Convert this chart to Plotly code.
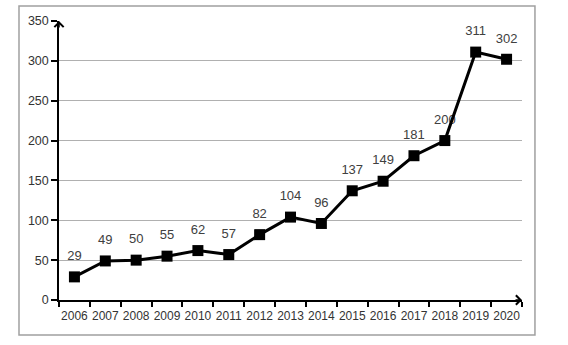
import plotly.graph_objects as go

years = ["2006", "2007", "2008", "2009", "2010", "2011", "2012", "2013",
         "2014", "2015", "2016", "2017", "2018", "2019", "2020"]
values = [29, 49, 50, 55, 62, 57, 82, 104, 96, 137, 149, 181, 200, 311, 302]
y_ticks = [0, 50, 100, 150, 200, 250, 300, 350]

fig = go.Figure()
# labels (drawn first so the line sits on top)
fig.add_trace(go.Scatter(
    x=years, y=values, mode="markers+text", text=[str(v) for v in values],
    textposition="top center", marker=dict(size=20, color="rgba(0,0,0,0)"),
    textfont=dict(family="Liberation Sans, Arial", size=13, color="#404040"),
    hoverinfo="skip", cliponaxis=False, showlegend=False))
fig.add_trace(go.Scatter(
    x=years, y=values, mode="lines+markers",
    line=dict(color="black", width=3),
    marker=dict(symbol="square", size=11, color="black"),
    cliponaxis=False, showlegend=False))

fig.update_layout(
    width=568, height=345,
    margin=dict(l=59, r=46, t=21, b=45),
    paper_bgcolor="white", plot_bgcolor="white",
    font=dict(family="Liberation Sans, Arial", size=12, color="#333333"),
    xaxis=dict(type="category", tickson="boundaries", ticks="outside", ticklen=5,
               tickcolor="black", tickwidth=1.5, showline=True, linecolor="black",
               linewidth=1.5, showgrid=False, range=[-0.5, 14.5], tickangle=0,
               ticklabelstandoff=4,
               tickfont=dict(size=12, color="#333333")),
    yaxis=dict(range=[0, 350], tickvals=y_ticks, ticks="outside", ticklen=6,
               tickcolor="black", tickwidth=1.5, showline=True, linecolor="black",
               linewidth=1.5, showgrid=True, gridcolor="#b0b0b0", gridwidth=1,
               zeroline=False, tickfont=dict(size=12.5, color="#333333")),
    shapes=[dict(type="rect", xref="paper", yref="paper",
                 x0=-0.0864, x1=1.028, y0=-0.1254, y1=1.0538,
                 line=dict(color="#a0a0a0", width=1.5), layer="below")],
    annotations=[
        dict(xref="paper", yref="paper", x=0, y=1.0, ax=0, ay=8, axref="pixel",
             ayref="pixel", showarrow=True, arrowhead=4, arrowsize=1.2,
             arrowwidth=1.5, arrowcolor="black", text=""),
        dict(xref="paper", yref="paper", x=1.0, y=0, ax=-8, ay=0, axref="pixel",
             ayref="pixel", showarrow=True, arrowhead=4, arrowsize=1.2,
             arrowwidth=1.5, arrowcolor="black", text=""),
    ],
)
fig.write_html("out.html")
